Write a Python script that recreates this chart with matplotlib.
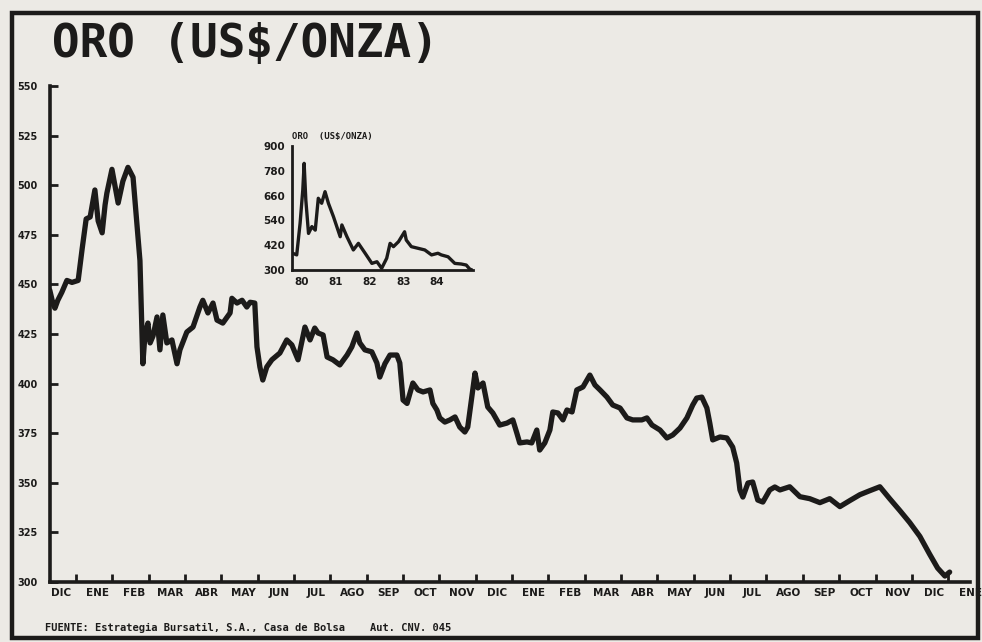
import matplotlib
matplotlib.use("Agg")
import matplotlib.pyplot as plt
from matplotlib.patches import Rectangle

# ---------------- data ----------------
# main chart: x = months since 1 Jan 1983, y = US$ per ounce
main_month = [-0.72, -0.63, -0.58, -0.50, -0.39, -0.25, -0.11, 0.06, 0.17, 0.28,
              0.39, 0.52, 0.61, 0.72, 0.80, 0.85, 0.99, 1.07, 1.16, 1.29,
              1.43, 1.57, 1.62, 1.76, 1.84, 1.90, 1.98, 2.04, 2.12, 2.23,
              2.31, 2.39, 2.50, 2.64, 2.78, 2.86, 3.05, 3.22, 3.41, 3.49,
              3.63, 3.77, 3.88, 4.04, 4.24, 4.29, 4.43, 4.57, 4.70, 4.79,
              4.92, 4.98, 5.06, 5.14, 5.25, 5.39, 5.61, 5.80, 5.94, 6.11,
              6.30, 6.44, 6.57, 6.66, 6.80, 6.91, 7.07, 7.26, 7.46, 7.59,
              7.73, 7.81, 7.95, 8.14, 8.28, 8.36, 8.50, 8.64, 8.83, 8.91,
              9.00, 9.11, 9.27, 9.41, 9.55, 9.74, 9.82, 9.93, 10.01, 10.15,
              10.29, 10.43, 10.56, 10.70, 10.78, 10.89, 10.98, 11.06, 11.20, 11.33,
              11.47, 11.66, 11.86, 12.02, 12.13, 12.21, 12.41, 12.54, 12.68, 12.76,
              12.90, 13.04, 13.12, 13.26, 13.40, 13.51, 13.65, 13.78, 13.95, 14.14,
              14.28, 14.42, 14.61, 14.77, 14.97, 15.16, 15.32, 15.57, 15.71, 15.85,
              16.07, 16.26, 16.42, 16.62, 16.81, 16.97, 17.08, 17.22, 17.36, 17.44,
              17.52, 17.72, 17.91, 18.07, 18.18, 18.27, 18.35, 18.49, 18.62, 18.76,
              18.90, 19.09, 19.23, 19.37, 19.64, 19.92, 20.19, 20.47, 20.74, 21.02,
              21.29, 21.57, 21.84, 22.12, 22.39, 22.67, 22.94, 23.22, 23.49, 23.71,
              23.91, 24.04]
main_price = [447, 440, 438, 442, 446, 452, 451, 452, 468, 483,
              484, 497.6, 482, 476, 490, 496, 508, 500, 491, 502,
              509, 504, 493, 462, 410, 425, 430.5, 420.5, 424, 433.6,
              417, 434.6, 420.5, 422, 410, 417, 426, 428.5, 438.6, 442,
              435.6, 440.6, 432, 430.5, 435.6, 443, 440.6, 442, 438.6, 441,
              440.6, 418.5, 408.4, 401.8, 408.4, 412, 415.4, 422, 419.5, 412,
              428.5, 422, 428, 425.5, 424.5, 413.4, 412, 409.4, 414.4, 418.5,
              425.5, 420.5, 417, 416, 410.4, 403.3, 410, 414.4, 414.4, 410.4,
              391.7, 390, 400.3, 396.8, 395.8, 396.8, 390, 386.7, 382.7, 380.6,
              381.7, 383.2, 378.1, 375.6, 378.1, 393.2, 405.3, 397.8, 400.3, 388.2,
              385.2, 379.1, 380.1, 381.7, 375.1, 370.1, 370.6, 370.1, 376.6, 366.5,
              370.1, 376.6, 385.7, 385.2, 381.7, 386.7, 385.7, 396.8, 398.3, 404.3,
              399.3, 396.8, 393.2, 389.2, 387.7, 382.7, 381.7, 381.7, 382.7, 379.1,
              376.6, 372.6, 374.1, 377.6, 382.7, 389.2, 392.7, 393.2, 387.7, 380.1,
              371.6, 373.1, 372.6, 368, 360, 346.4, 342.8, 349.9, 350.4, 341.3,
              340.3, 346.4, 347.9, 346.4, 348, 343, 342, 340, 342, 338,
              341, 344, 346, 348, 342, 336, 330, 323, 314, 307,
              303, 305]

month_labels = ["DIC", "ENE", "FEB", "MAR", "ABR", "MAY", "JUN", "JUL", "AGO",
                "SEP", "OCT", "NOV", "DIC", "ENE", "FEB", "MAR", "ABR", "MAY",
                "JUN", "JUL", "AGO", "SEP", "OCT", "NOV", "DIC", "ENE"]
y_ticks = [300, 325, 350, 375, 400, 425, 450, 475, 500, 525, 550]

# inset: x = year, y = US$ per ounce
inset_year = [1979.72, 1979.84, 1979.94, 1980.02, 1980.06, 1980.11, 1980.19, 1980.29,
              1980.39, 1980.48, 1980.58, 1980.68, 1980.78, 1980.93, 1981.13, 1981.18,
              1981.33, 1981.52, 1981.67, 1981.87, 1982.07, 1982.22, 1982.36, 1982.51,
              1982.61, 1982.71, 1982.86, 1983.04, 1983.09, 1983.24, 1983.44, 1983.64,
              1983.84, 1984.03, 1984.13, 1984.33, 1984.53, 1984.72, 1984.87, 1984.97,
              1985.04]
inset_price = [381, 373, 526, 687, 816, 639, 477, 510,
               493, 647, 623, 679, 623, 558, 461, 518,
               461, 397, 429, 381, 332, 340, 308, 357,
               429, 413, 437, 485, 445, 413, 405, 397,
               373, 381, 373, 364, 332, 329, 324, 305,
               300]
inset_yticks = [300, 420, 540, 660, 780, 900]
inset_xticks = [1980, 1981, 1982, 1983, 1984]
inset_xlabels = ["80", "81", "82", "83", "84"]

title = "ORO (US$/ONZA)"
source = "FUENTE: Estrategia Bursatil, S.A., Casa de Bolsa    Aut. CNV. 045"

# ---------------- figure ----------------
W, H = 982, 642
paper = "#eceae5"
ink = "#1c1b1a"
fig = plt.figure(figsize=(W / 100, H / 100), dpi=100, facecolor=paper)

def fx(px):
    return px / W

def fy(py):
    return 1 - py / H

# outer frame
fig.patches.append(Rectangle((fx(12), fy(638)), fx(978) - fx(12), fy(13) - fy(638),
                             transform=fig.transFigure, fill=False,
                             edgecolor=ink, linewidth=3.2))

fig.text(fx(52), fy(45), title, fontsize=33, fontweight="bold",
         family="DejaVu Sans Mono", color=ink, va="center", ha="left")

# main axes
ax = fig.add_axes([fx(50), fy(582), fx(970) - fx(50), fy(86) - fy(582)])
ax.set_facecolor("none")
ax.plot(main_month, main_price, color=ink, linewidth=3.8,
        solid_joinstyle="round", solid_capstyle="round")
ax.set_xlim(-0.715, 24.6)
ax.set_ylim(300, 550)
for s in ["top", "right"]:
    ax.spines[s].set_visible(False)
for s in ["left", "bottom"]:
    ax.spines[s].set_linewidth(2.6)
    ax.spines[s].set_color(ink)
ax.set_yticks(y_ticks)
ax.set_yticklabels([str(v) for v in y_ticks], fontsize=7, fontweight="bold", color=ink)
ax.tick_params(axis="y", direction="in", length=6, width=2, color=ink, pad=9)
ax.set_xticks(range(0, 25))
ax.set_xticklabels([])
ax.tick_params(axis="x", which="major", direction="in", length=6, width=2, color=ink)
ax.set_xticks([i - 0.4 for i in range(len(month_labels))], minor=True)
ax.set_xticklabels(month_labels, minor=True, fontsize=7.5, fontweight="bold", color=ink)
ax.tick_params(axis="x", which="minor", length=0, pad=4)

# inset
ai = fig.add_axes([fx(292), fy(270), fx(473) - fx(292), fy(146) - fy(270)])
ai.set_facecolor("none")
ai.plot(inset_year, inset_price, color=ink, linewidth=2.4, solid_joinstyle="round")
ai.set_xlim(1979.70, 1985.07)
ai.set_ylim(300, 900)
for s in ["top", "right"]:
    ai.spines[s].set_visible(False)
for s in ["left", "bottom"]:
    ai.spines[s].set_linewidth(2)
    ai.spines[s].set_color(ink)
ai.set_yticks(inset_yticks)
ai.set_yticklabels([str(v) for v in inset_yticks], fontsize=7.5, fontweight="bold", color=ink)
ai.set_xticks(inset_xticks)
ai.set_xticklabels(inset_xlabels, fontsize=7.5, fontweight="bold", color=ink)
ai.tick_params(length=0, pad=5)
ai.text(0.0, 1.04, "ORO  (US$/ONZA)", transform=ai.transAxes, fontsize=6.5,
        fontweight="bold", family="DejaVu Sans Mono", color=ink, ha="left", va="bottom")

fig.text(fx(45), fy(628), source, fontsize=7.5, fontweight="bold",
         family="DejaVu Sans Mono", color=ink, va="center", ha="left")

fig.savefig("out.png", dpi=100, facecolor=paper)
